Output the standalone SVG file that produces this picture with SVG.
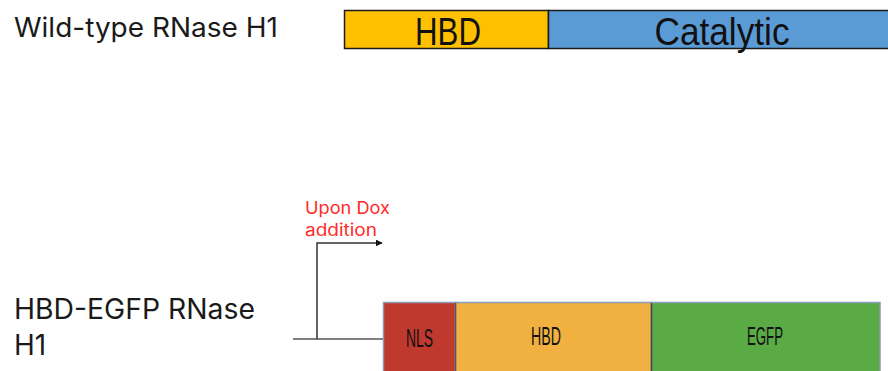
<svg xmlns="http://www.w3.org/2000/svg" width="888" height="371" viewBox="0 0 888 371">
<defs>
<style>
.lbl{font-family:Inter,Roboto,"Liberation Sans",sans-serif;fill:#1a1a1a;}
.dom{font-family:"Liberation Sans",Arial,sans-serif;fill:#111;text-anchor:middle;}
.top{stroke:#1a1a1a;stroke-width:1.5;}
.bot{stroke:#8c9bb8;stroke-width:1.5;}
.red{font-family:Inter,Roboto,"Liberation Sans",sans-serif;fill:#ff2a2a;font-size:17px;}
</style>
<marker id="ah" viewBox="0 0 10 10" refX="9" refY="5" markerWidth="7" markerHeight="7" orient="auto" markerUnits="userSpaceOnUse">
<path d="M0,0 L10,5 L0,10 z" fill="#111"/>
</marker>
</defs>
<rect width="888" height="371" fill="#fff"/>
<g id="wt-label"><text class="lbl" x="14" y="37" font-size="27" textLength="264" lengthAdjust="spacingAndGlyphs">Wild-type RNase H1</text></g>
<g id="wt-hbd">
<rect class="top" x="344.5" y="10.5" width="204" height="38" fill="#ffc000"/>
<text class="dom" x="448" y="45" font-size="38" textLength="66" lengthAdjust="spacingAndGlyphs">HBD</text>
</g>
<g id="wt-catalytic">
<rect class="top" x="548.5" y="10.5" width="345" height="38" fill="#5b9bd5"/>
<text class="dom" x="722" y="45" font-size="38" textLength="135" lengthAdjust="spacingAndGlyphs">Catalytic</text>
</g>
<g id="hbd-egfp-label">
<text class="lbl" x="14" y="319" font-size="28" textLength="241" lengthAdjust="spacingAndGlyphs">HBD-EGFP RNase</text>
<text class="lbl" x="14" y="355" font-size="28">H1</text>
</g>
<g id="dox-label">
<text class="red" x="305" y="214" textLength="85" lengthAdjust="spacingAndGlyphs">Upon Dox</text>
<text class="red" x="305" y="236" textLength="72" lengthAdjust="spacingAndGlyphs">addition</text>
</g>
<g id="connectors" fill="none" stroke="#555" stroke-width="1.5">
<line x1="293" y1="339" x2="383" y2="339"/>
<polyline points="317,339 317,243 382,243" stroke="#333" marker-end="url(#ah)"/>
</g>
<g id="nls">
<rect class="bot" x="383.5" y="302.5" width="72" height="80" fill="#c0392f"/>
<text class="dom" x="419.5" y="347" font-size="26" textLength="27" lengthAdjust="spacingAndGlyphs">NLS</text>
</g>
<g id="hbd">
<rect class="bot" x="455.5" y="302.5" width="196" height="80" fill="#f1b140"/>
<line x1="455.5" y1="303" x2="455.5" y2="371" stroke="#555" stroke-width="1.5"/>
<text class="dom" x="546" y="345" font-size="26" textLength="30" lengthAdjust="spacingAndGlyphs">HBD</text>
</g>
<g id="egfp">
<rect class="bot" x="651.5" y="302.5" width="228.5" height="80" fill="#5aaa46"/>
<line x1="651.5" y1="303" x2="651.5" y2="371" stroke="#444" stroke-width="1.5"/>
<text class="dom" x="765" y="345" font-size="26" textLength="36" lengthAdjust="spacingAndGlyphs">EGFP</text>
</g>
</svg>
